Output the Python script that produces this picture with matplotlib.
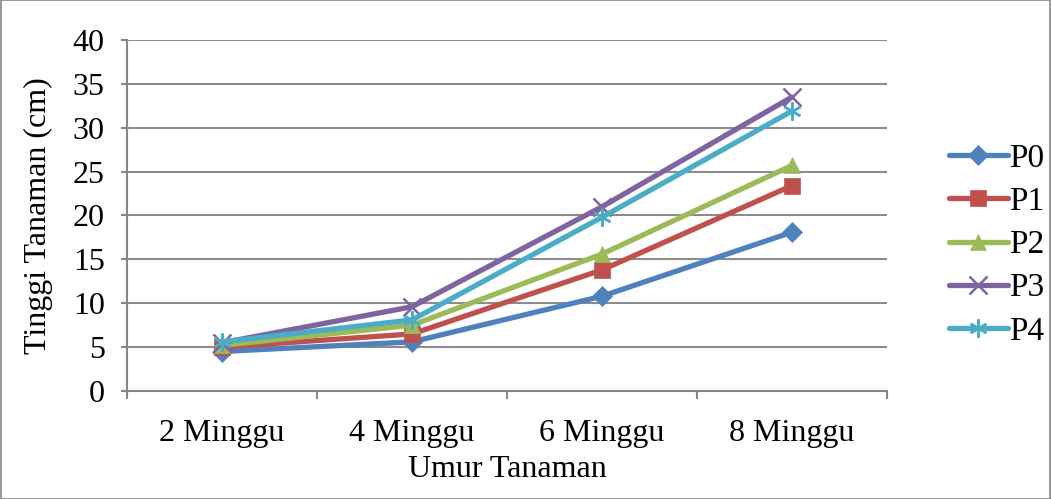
import matplotlib.pyplot as plt
import numpy as np

# --- datos ---
kategori = ["2 Minggu", "4 Minggu", "6 Minggu", "8 Minggu"]
p0 = [4.5, 5.6, 10.8, 18.1]
p1 = [5.0, 6.5, 13.8, 23.4]
p2 = [5.2, 7.5, 15.6, 25.7]
p3 = [5.5, 9.6, 21.0, 33.5]
p4 = [5.6, 8.1, 19.8, 31.9]

seri = {"P0": p0, "P1": p1, "P2": p2, "P3": p3, "P4": p4}
warna = {"P0": "#4F81BD", "P1": "#C0504D", "P2": "#9BBB59",
         "P3": "#8064A2", "P4": "#4BACC6"}
marker = {"P0": "D", "P1": "s", "P2": "^", "P3": "x", "P4": (6, 2, 0)}
msize = {"P0": 10, "P1": 11, "P2": 12, "P3": 13, "P4": 13}

plt.rcParams['font.family'] = ['Liberation Serif', 'DejaVu Serif']

fig = plt.figure(figsize=(10.51, 4.99), dpi=100)
ax = fig.add_axes([0.1208, 0.2164, 0.7232, 0.7036])

x = np.arange(len(kategori))
for nama, nilai in seri.items():
    ax.plot(x, nilai, color=warna[nama], lw=3.8, marker=marker[nama],
            markersize=msize[nama], markeredgewidth=1.8 if nama in ("P3", "P4") else 0.5,
            markeredgecolor=warna[nama], label=nama, solid_capstyle='round')

ax.set_ylim(0, 40)
ax.set_yticks(np.arange(0, 41, 5))
ax.set_xlim(-0.5, 3.5)
ax.set_xticks(np.arange(-0.5, 3.6, 1))
ax.set_xticklabels([])
ax.set_xticks(x, minor=True)
ax.set_xticklabels(kategori, minor=True)
ax.tick_params(axis='x', which='minor', length=0, labelsize=23, pad=20)
ax.tick_params(axis='x', which='major', length=6, color='#868686', width=1.5)
ax.tick_params(axis='y', length=4, color='#868686', width=1.5, labelsize=23, pad=12)

ax.grid(axis='y', color='#8c8c8c', lw=1.5)
ax.set_axisbelow(True)
for s in ("top", "right"):
    ax.spines[s].set_visible(False)
for s in ("left", "bottom"):
    ax.spines[s].set_color('#868686')
    ax.spines[s].set_linewidth(1.5)

ax.set_xlabel("Umur Tanaman", fontsize=23, labelpad=5)
ax.set_ylabel("Tinggi Tanaman (cm)", fontsize=23, labelpad=14)

ax.legend(loc='center left', bbox_to_anchor=(1.06, 0.416), frameon=False,
          fontsize=24, labelspacing=0.38, handlelength=1.75, handletextpad=0.05,
          borderpad=0)

# bingkai luar
fig.patches.append(plt.Rectangle((0.001, 0.001), 0.998, 0.998, transform=fig.transFigure,
                                 fill=False, edgecolor='#868686', lw=1.2))

fig.savefig("out.png", dpi=100)
